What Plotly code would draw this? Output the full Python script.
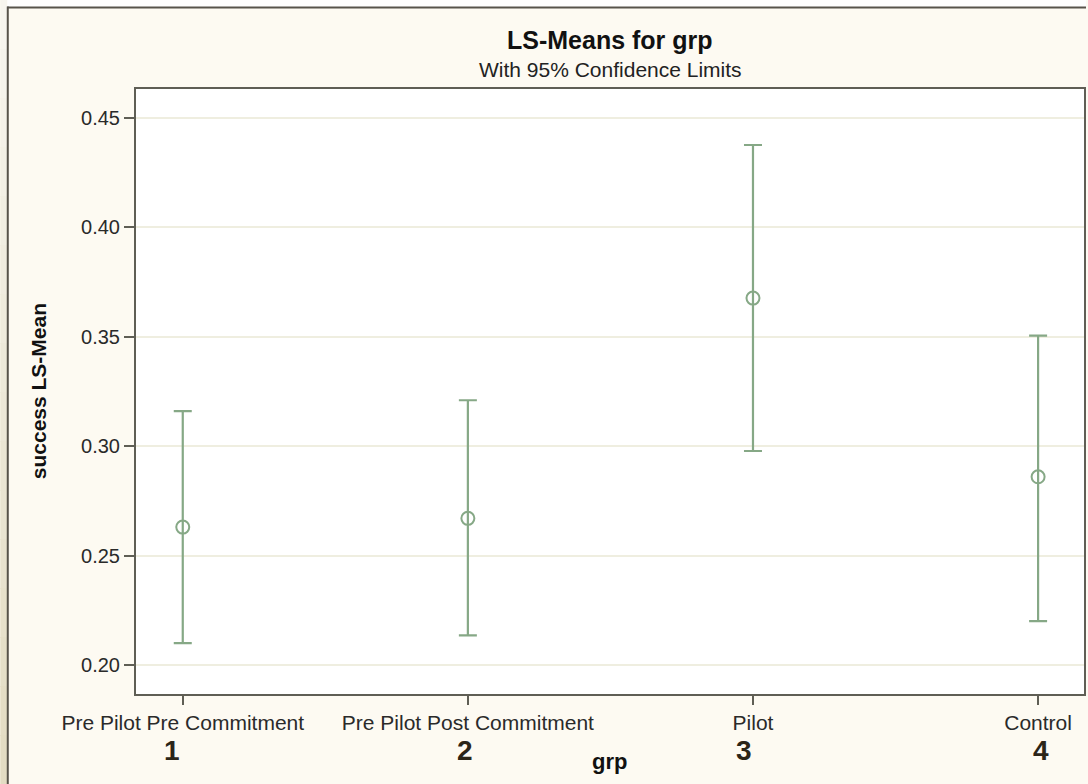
import plotly.graph_objects as go

categories = ["Pre Pilot Pre Commitment", "Pre Pilot Post Commitment", "Pilot", "Control"]
means = [0.263, 0.267, 0.3677, 0.286]
upper = [0.316, 0.321, 0.4377, 0.3505]
lower = [0.210, 0.2135, 0.2978, 0.220]
group_numbers = ["1", "2", "3", "4"]
y_ticks = [0.20, 0.25, 0.30, 0.35, 0.40, 0.45]

W, H = 1088, 784
L, R, T, B = 136, 1086, 89, 694

def px(x):
    return (x - L) / (R - L)

def py(y):
    return (B - y) / (B - T)

green = "#86a886"
fig = go.Figure()
fig.add_trace(go.Scatter(
    x=categories, y=means, mode="markers",
    marker=dict(symbol="circle-open", size=13, color=green, line=dict(width=2, color=green)),
    error_y=dict(type="data", symmetric=False,
                 array=[u - m for u, m in zip(upper, means)],
                 arrayminus=[m - l for m, l in zip(means, lower)],
                 color=green, thickness=2.2, width=9),
    showlegend=False, hoverinfo="skip",
))

shapes = []
n = 16
for i in range(n):
    t = i / (n - 1)
    c0 = (0xf7, 0xf5, 0xee)
    c1 = (0xe3, 0xdc, 0xc3)
    c = tuple(int(a + (b - a) * t) for a, b in zip(c0, c1))
    y0 = i * H / n
    y1 = (i + 1) * H / n + 1
    shapes.append(dict(type="rect", xref="paper", yref="paper",
                       x0=px(0), x1=px(7), y0=py(y1), y1=py(y0),
                       fillcolor="rgb(%d,%d,%d)" % c, line=dict(width=0), layer="below"))
shapes.append(dict(type="rect", xref="paper", yref="paper", x0=px(7), x1=px(W), y0=py(7), y1=py(0),
                   fillcolor="#fefefe", line=dict(width=0), layer="below"))
shapes.append(dict(type="line", xref="paper", yref="paper", x0=px(7.5), x1=px(7.5), y0=py(H), y1=py(6.5),
                   line=dict(color="#57534a", width=2)))
shapes.append(dict(type="line", xref="paper", yref="paper", x0=px(7), x1=px(W), y0=py(7.5), y1=py(7.5),
                   line=dict(color="#57534a", width=2)))

font_family = "Liberation Sans, Arial, sans-serif"
annotations = [
    dict(text="<b>LS-Means for grp</b>", x=px(611), y=py(40), xref="paper", yref="paper",
         showarrow=False, font=dict(size=25, color="#111", family=font_family), xanchor="center", yanchor="middle"),
    dict(text="With 95% Confidence Limits", x=px(611), y=py(69), xref="paper", yref="paper",
         showarrow=False, font=dict(size=21, color="#222", family=font_family), xanchor="center", yanchor="middle"),
    dict(text="<b>success LS-Mean</b>", x=px(38), y=py(391), xref="paper", yref="paper", textangle=-90,
         showarrow=False, font=dict(size=21, color="#111", family=font_family), xanchor="center", yanchor="middle"),
    dict(text="<b>grp</b>", x=px(610), y=py(761), xref="paper", yref="paper",
         showarrow=False, font=dict(size=22, color="#111", family=font_family), xanchor="center", yanchor="middle"),
]
num_x = [172, 466, 745, 1043]
for s, xx in zip(group_numbers, num_x):
    annotations.append(dict(text="<b>%s</b>" % s, x=px(xx), y=py(750), xref="paper", yref="paper",
                            showarrow=False, font=dict(size=28, color="#2b2518", family=font_family),
                            xanchor="center", yanchor="middle"))

fig.update_layout(
    width=W, height=H,
    margin=dict(l=L, r=W - R, t=T, b=H - B, pad=0),
    paper_bgcolor="#fdfaf2", plot_bgcolor="#ffffff",
    font=dict(family=font_family, size=20, color="#2a2a2a"),
    shapes=shapes, annotations=annotations,
    xaxis=dict(type="category", range=[-0.164, 3.161], showgrid=False, zeroline=False,
               showline=True, mirror=True, linecolor="#5f5e55", linewidth=2,
               ticks="outside", ticklen=9, tickcolor="#5f5e55", tickwidth=2,
               tickfont=dict(size=21, color="#2a2a2a")),
    yaxis=dict(range=[0.1867, 0.4633], tickvals=y_ticks, tickformat=".2f",
               showgrid=True, gridcolor="#efeee0", gridwidth=1.5, zeroline=False,
               showline=True, mirror=True, linecolor="#5f5e55", linewidth=2,
               ticks="outside", ticklen=10, tickcolor="#5f5e55", tickwidth=2,
               tickfont=dict(size=20, color="#2a2a2a")),
)

fig.write_html("out.html", config={"displayModeBar": False},
               post_script="document.body.style.margin='0';")
